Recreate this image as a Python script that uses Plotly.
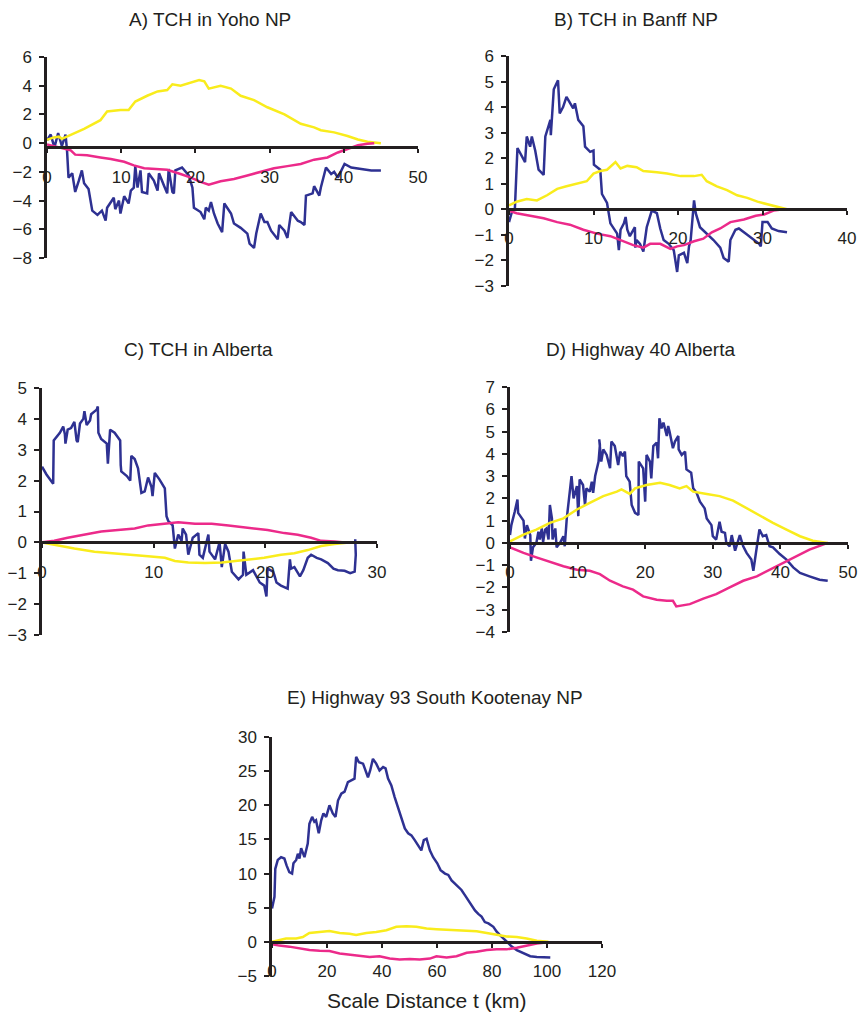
import plotly.graph_objects as go

NAVY = "#2E3192"
YELLOW = "#F9EC1C"
PINK = "#EC2A8A"
INK = "#231F20"
FONT = "Liberation Sans, Arial, Helvetica, sans-serif"

# ---- A) TCH in Yoho NP ----
a_blue_t = [0, 0.5, 1, 1.5, 2, 2.5, 2.7, 2.9, 3.4, 3.8, 4.3, 4.7, 5, 5.6, 6.1, 6.8, 7.4, 7.9, 8.1,
            9, 9.2, 9.7, 9.9, 10.4, 11, 11.3, 11.7, 11.9, 12.2, 12.6, 12.8, 13.5, 13.7, 14.4, 14.9,
            15.1, 15.8, 16.2, 16.4, 16.9, 17.1, 17.3, 18.2, 19.1, 19.6, 19.8, 20.7, 21.2, 21.4, 21.8,
            22.1, 22.5, 23, 23.6, 23.9, 24.8, 25.2, 26.1, 27, 27.3, 27.9, 28.2, 28.8, 29.3, 29.7, 30.2,
            31.1, 31.3, 32, 32.4, 32.9, 33.8, 34.2, 34.7, 34.9, 35.8, 36, 36.7, 36.9, 37.6, 38.3, 38.7,
            39.2, 40.1, 41, 42.3, 43.7, 45]
a_blue = [0.2, 0.6, -0.3, 0.7, -0.2, 0.6, -0.5, -2.4, -2.1, -3.4, -2.6, -1.9, -2.8, -3.2, -4.7, -5.0,
          -4.7, -5.4, -4.5, -3.8, -4.6, -4.0, -4.9, -3.7, -4.2, -3.3, -3.1, -1.6, -3.1, -1.9, -3.4, -3.5,
          -2.1, -2.6, -3.3, -2.1, -3.0, -3.5, -1.8, -3.4, -3.5, -1.9, -1.7, -2.25, -3.1, -4.5, -4.8, -5.3,
          -4.5, -4.7, -4.1, -4.9, -5.6, -6.2, -4.2, -4.9, -5.6, -5.9, -6.3, -7.0, -7.3, -6.3, -4.9, -5.5,
          -5.5, -6.1, -6.7, -5.7, -6.1, -6.6, -4.8, -5.4, -5.5, -5.7, -3.65, -3.5, -3.0, -3.65, -3.1,
          -1.7, -2.15, -2.0, -2.4, -1.45, -1.7, -1.8, -1.9, -1.9]
a_yellow_t = [0, 0.9, 1.6, 2.0, 5, 7.2, 8.1, 9.9, 11, 11.9, 13.5, 14.9, 16.2, 16.9, 18, 19.8, 20.5,
              21.2, 21.8, 23.4, 24.8, 26.1, 27.9, 29.7, 32, 34.2, 36, 36.9, 38.7, 40.5, 41.9, 43.2, 45]
a_yellow = [0.23, 0.4, 0.45, 0.3, 1.0, 1.6, 2.2, 2.3, 2.3, 2.9, 3.3, 3.6, 3.7, 4.1, 4.0, 4.3, 4.4,
            4.3, 3.8, 4.0, 3.8, 3.3, 3.0, 2.5, 2.0, 1.35, 1.1, 0.9, 0.75, 0.5, 0.25, 0.1, 0.0]
a_pink_t = [0, 1.6, 3.2, 3.8, 5.4, 7.2, 8.6, 10.4, 11.7, 13.1, 14.9, 16.2, 18, 19.4, 20.7, 21.8,
            23.4, 25.2, 27, 28.8, 30.6, 32.4, 34.2, 36, 37.8, 39.2, 40.5, 41.9, 43.2, 44.1]
a_pink = [-0.1, -0.3, -0.5, -0.8, -0.85, -1.0, -1.1, -1.3, -1.55, -1.75, -1.8, -1.85, -2.15, -2.4,
          -2.7, -2.9, -2.65, -2.5, -2.25, -2.0, -1.75, -1.6, -1.45, -1.15, -1.0, -0.65, -0.4, -0.15,
          -0.05, 0.0]

# ---- B) TCH in Banff NP ----
b_blue_t = [0, 0.3, 0.7, 1, 1.9, 2.1, 2.5, 2.7, 3.1, 3.5, 4.1, 4.3, 4.9, 4.95, 5.3, 5.8, 6, 6.4, 6.8,
            7.2, 7.6, 7.8, 8.2, 8.8, 9, 9.6, 10, 10.05, 10.8, 11, 11.6, 12, 12.8, 13, 13.2, 13.6, 13.8,
            14, 14.3, 14.9, 14.95, 15.1, 15.5, 15.9, 16.3, 16.9, 17.5, 17.9, 18.3, 18.9, 19.5, 19.9,
            20.1, 20.7, 21.1, 21.3, 21.5, 21.9, 22.1, 22.6, 23.4, 24.2, 25, 25.4, 26, 26.2, 26.8, 27.2,
            28, 29, 29.6, 29.8, 30, 30.6, 31.1, 31.9, 32.9]
b_blue = [-0.5, -0.15, 0.05, 2.4, 1.85, 2.85, 2.45, 2.85, 2.3, 1.55, 1.35, 2.85, 3.5, 2.9, 4.7, 5.05,
          3.75, 4.0, 4.4, 4.2, 3.95, 4.15, 3.5, 3.25, 2.45, 2.25, 2.3, 1.75, 1.55, 0.6, 0.25, -0.55,
          -0.95, -1.6, -0.8, -0.55, -0.3, -0.8, -1.05, -0.7, -1.5, -1.2, -1.35, -1.65, -0.7, -0.05,
          -0.15, -0.75, -1.2, -1.35, -1.6, -2.45, -1.8, -1.7, -2.1, -1.45, -1.2, 0.35, -0.15, -0.7,
          -0.95, -1.2, -1.5, -1.9, -2.05, -1.2, -0.8, -0.75, -0.95, -1.2, -1.35, -1.45, -0.5, -0.5,
          -0.75, -0.85, -0.9]
b_yellow_t = [0, 0.9, 2.1, 3.3, 4.5, 5.7, 6.8, 8, 9.2, 10, 10.8, 11.6, 12.6, 13.2, 14, 15.1, 15.9,
              17.5, 18.7, 20.3, 21.9, 22.8, 23.4, 24.6, 25.8, 27, 28.2, 29.4, 30.6, 31.7, 32.9]
b_yellow = [0.15, 0.3, 0.4, 0.35, 0.55, 0.8, 0.9, 1.0, 1.1, 1.4, 1.5, 1.55, 1.85, 1.6, 1.7, 1.65,
            1.5, 1.45, 1.4, 1.3, 1.3, 1.35, 1.1, 0.9, 0.75, 0.55, 0.45, 0.3, 0.2, 0.1, 0.0]
b_pink_t = [0, 0.9, 2.5, 4.1, 5.7, 7.2, 8.8, 10.4, 12, 13.6, 14.7, 15.9, 16.7, 17.9, 19.1, 19.9,
            20.7, 21.9, 23, 24, 25, 26.2, 27.8, 29.2, 30.2, 31.3, 32.5]
b_pink = [-0.05, -0.15, -0.25, -0.35, -0.5, -0.6, -0.8, -0.95, -1.05, -1.25, -1.4, -1.5, -1.35,
          -1.35, -1.55, -1.45, -1.4, -1.25, -1.15, -0.9, -0.75, -0.5, -0.4, -0.25, -0.2, -0.05, 0.0]

# ---- C) TCH in Alberta ----
c_blue_t = [0, 0.4, 1, 1.05, 1.6, 1.9, 2.05, 2.1, 2.3, 2.6, 2.9, 3.1, 3.2, 3.4, 3.7, 3.8, 4, 4.3, 4.4,
            4.9, 5, 5.05, 5.3, 5.8, 5.9, 6.1, 6.5, 7, 7.05, 7.1, 7.6, 7.9, 8, 8.3, 8.6, 8.9, 9.2, 9.5,
            9.8, 9.9, 10.1, 10.5, 11, 11.1, 11.15, 11.3, 11.7, 11.9, 12.2, 12.5, 12.6, 12.9, 13.1,
            13.5, 14, 14.1, 14.4, 14.9, 15, 15.5, 15.9, 16.1, 16.4, 16.7, 17, 17.6, 18, 18.05, 18.3,
            18.9, 19.5, 19.9, 20.1, 20.2, 20.7, 20.8, 21, 21.4, 22, 22.2, 22.3, 22.6, 23.1, 23.4, 23.8,
            24.1, 24.6, 25, 25.6, 26.1, 26.5, 27.1, 27.6, 28, 28.1, 28.05]
c_blue = [2.45, 2.2, 1.9, 3.3, 3.55, 3.75, 3.5, 3.2, 3.65, 3.7, 3.9, 3.3, 3.25, 3.85, 4.0, 4.25, 3.8,
          3.95, 4.15, 4.3, 4.4, 3.55, 3.35, 3.2, 2.55, 3.65, 3.55, 3.3, 2.5, 2.3, 2.15, 2.0, 2.8, 2.7,
          2.4, 1.6, 1.65, 2.1, 1.8, 1.5, 2.25, 2.05, 1.75, 1.1, 0.85, 0.7, 0.55, -0.2, 0.25, 0.05,
          0.45, 0.25, -0.4, 0.15, 0.3, -0.4, -0.5, 0.25, -0.3, -0.55, 0.0, -0.8, -0.05, -0.3, -0.95,
          -1.2, -1.05, -0.3, -1.05, -0.9, -1.3, -1.4, -1.75, -0.85, -0.95, -1.05, -1.3, -1.4, -1.5,
          -0.55, -0.85, -0.8, -1.1, -0.9, -0.5, -0.4, -0.5, -0.55, -0.67, -0.85, -0.9, -0.92, -1.0,
          -0.95, -0.4, 0.1]
c_yellow_t = [0, 1.4, 2.9, 4.7, 6.5, 8, 9.5, 11, 11.9, 13.1, 14.6, 16.1, 17.6, 18.5, 19.9, 21.4,
              22.6, 23.8, 25, 26.2, 27.7]
c_yellow = [0.0, -0.1, -0.2, -0.3, -0.35, -0.4, -0.45, -0.5, -0.6, -0.65, -0.67, -0.65, -0.6, -0.55,
            -0.5, -0.4, -0.35, -0.25, -0.12, -0.05, 0.0]
c_pink_t = [0, 1.1, 2.3, 3.8, 5.3, 6.8, 8.3, 9.5, 10.7, 12.2, 13.7, 15.2, 16.7, 17.9, 19, 20.2, 21.7,
            22.9, 24.1, 25, 26.2, 27.1]
c_pink = [0.0, 0.05, 0.15, 0.25, 0.35, 0.4, 0.45, 0.55, 0.6, 0.65, 0.6, 0.6, 0.55, 0.5, 0.45, 0.4,
          0.3, 0.25, 0.15, 0.05, 0.03, 0.0]

# ---- D) Highway 40 Alberta ----
d_blue_t = [0, 0.2, 0.7, 1.1, 1.2, 2, 2.2, 2.5, 3, 3.1, 3.4, 3.9, 4.2, 4.4, 4.7, 4.9, 5.2, 5.4, 5.7,
            5.9, 6.2, 6.3, 6.7, 6.9, 7.4, 7.9, 8.1, 8.4, 8.9, 9.1, 9.4, 9.9, 10.1, 10.3, 10.8, 11.1,
            11.3, 11.8, 12.1, 12.3, 12.6, 13.1, 13.3, 13.2, 13.5, 13.8, 14.3, 14.8, 15, 15.5, 15.8, 16,
            16.3, 16.7, 17, 17.2, 17.7, 18, 18.5, 19, 19.05, 19.7, 20, 20.2, 20.7, 20.9, 21.2, 21.7,
            21.9, 22.1, 22.4, 22.7, 23.2, 23.4, 23.6, 24.1, 24.4, 24.9, 24.95, 25.4, 25.9, 26.1, 26.8,
            27.1, 27.6, 28.1, 28.8, 29.1, 29.8, 30, 30.5, 31, 31.3, 31.8, 32, 32.5, 32.8, 33.3, 33.7,
            34, 34.5, 35, 35.7, 36, 36.5, 36.9, 37.4, 37.9, 38.4, 38.9, 39.9, 40.9, 41.9, 42.9, 44.3,
            45.8, 47]
d_blue = [0.35, 0.8, 1.4, 1.95, 1.35, 1.0, 0.2, 0.8, 0.35, -0.8, -0.2, 0.0, 0.5, 0.15, 0.65, 0.05,
          0.6, 0.65, 0.15, 1.7, 1.1, 0.15, 0.65, -0.2, 0.0, 0.3, -0.15, 1.1, 2.45, 3.0, 2.0, 2.55, 1.2,
          2.85, 2.6, 1.7, 2.45, 2.3, 2.75, 2.25, 3.0, 3.65, 4.4, 4.65, 3.65, 4.2, 3.95, 3.35, 4.55,
          4.35, 3.8, 3.5, 4.1, 3.9, 4.1, 3.0, 2.75, 1.7, 1.35, 1.25, 3.65, 3.35, 1.85, 3.95, 3.65,
          2.9, 4.35, 4.5, 3.8, 5.6, 5.15, 5.4, 4.8, 5.25, 5.0, 4.25, 4.55, 4.8, 4.2, 3.95, 4.1, 3.3,
          3.15, 2.45, 2.25, 1.85, 1.55, 1.1, 0.8, 0.3, 0.15, 0.95, 0.5, 0.45, 0.0, -0.15, 0.35, -0.35,
          0.05, 0.35, -0.15, -0.45, -0.75, -1.25, -0.2, 0.6, 0.3, 0.35, -0.15, -0.2, -0.5, -0.75,
          -1.1, -1.35, -1.5, -1.65, -1.7]
d_yellow_t = [0, 2, 3.9, 5.9, 7.9, 9.9, 11.8, 13.8, 15.8, 16.5, 17.7, 18.5, 20.2, 22.2, 23.6, 25.1,
              26.1, 27.1, 29.1, 31, 33, 35, 36.9, 38.9, 40.9, 42.9, 44.8, 47]
d_yellow = [0.07, 0.37, 0.6, 0.9, 1.1, 1.5, 1.8, 2.1, 2.3, 2.4, 2.2, 2.45, 2.6, 2.7, 2.6, 2.45, 2.55,
            2.3, 2.2, 2.1, 1.9, 1.55, 1.25, 0.9, 0.6, 0.3, 0.1, 0.0]
d_pink_t = [0, 2, 3.9, 5.9, 7.9, 9.9, 11.8, 13.3, 14.8, 16.7, 18.2, 19.7, 21.7, 23.2, 24.1, 24.6,
            26.6, 28.6, 30.5, 32.5, 34.5, 36.5, 38.4, 40.4, 42.4, 44.3, 47]
d_pink = [-0.2, -0.45, -0.65, -0.85, -1.05, -1.2, -1.25, -1.4, -1.7, -1.95, -2.1, -2.4, -2.55, -2.6,
          -2.6, -2.85, -2.75, -2.5, -2.3, -2.0, -1.7, -1.5, -1.2, -0.9, -0.6, -0.3, 0.0]

# ---- E) Highway 93 South Kootenay NP ----
e_blue_t = [0, 0.9, 1.2, 2.1, 3.3, 4.5, 5.3, 6.3, 7.3, 7.8, 8.8, 9.4, 10, 10.6, 11.8, 12.4, 13, 13.6,
            14.6, 15.4, 16, 17, 17.9, 18.7, 19.7, 20.9, 22.1, 23.1, 24, 25.2, 26.4, 27.6, 28.8, 30,
            30.6, 31.6, 33.1, 34, 34.9, 35.7, 36.7, 37.9, 39.1, 40.4, 41.3, 42.2, 43.4, 44.6, 45.8,
            47.1, 48.3, 49.5, 50.7, 51.9, 53.1, 54.3, 55.2, 56.2, 57.4, 58.6, 60.1, 61.3, 62.9, 64.1,
            65.3, 66.5, 67.7, 68.9, 70.2, 71.4, 72.6, 73.8, 75, 76.2, 77.4, 78.7, 80.5, 81.7, 82.9,
            84.1, 85.3, 87.2, 89, 91.4, 93.9, 96.3, 98.7, 101.2]
e_blue = [4.9, 6.6, 10.7, 12.0, 12.4, 12.2, 11.2, 10.2, 10.0, 11.5, 12.0, 12.9, 12.2, 13.7, 12.4,
          13.4, 14.4, 17.3, 18.3, 17.6, 17.8, 15.9, 17.8, 18.8, 18.3, 20.0, 18.8, 18.3, 20.7, 21.7,
          22.0, 23.4, 23.7, 23.9, 27.1, 26.3, 26.1, 25.1, 24.1, 25.1, 26.8, 26.1, 25.1, 25.6, 25.4,
          23.9, 22.9, 21.2, 19.8, 18.0, 16.6, 15.9, 15.6, 14.9, 14.1, 13.4, 14.9, 15.1, 13.4, 12.4,
          11.5, 10.5, 10.0, 9.8, 9.0, 8.5, 8.0, 7.6, 6.8, 6.1, 5.4, 4.6, 4.1, 3.7, 2.9, 2.7, 2.2, 1.5,
          1.0, 0.5, 0.0, -0.7, -1.2, -1.7, -2.1, -2.2, -2.3, -2.3]
e_yellow_t = [0, 2.7, 5.1, 8.8, 11.2, 13.6, 17.3, 20.9, 24.6, 28.2, 30.6, 34.3, 37.9, 41.6, 45.2,
              48.9, 52.5, 56.2, 59.8, 63.5, 67.1, 70.8, 74.4, 78.1, 81.7, 85.3, 89, 92.6, 96.3, 100.5]
e_yellow = [0.0, 0.25, 0.5, 0.5, 0.7, 1.3, 1.45, 1.6, 1.3, 1.2, 1.0, 1.3, 1.45, 1.7, 2.2, 2.3, 2.2,
            1.95, 1.85, 1.8, 1.7, 1.7, 1.55, 1.3, 1.05, 0.8, 0.7, 0.5, 0.15, 0.0]
e_pink_t = [0, 2.7, 6.3, 10, 13.6, 17.3, 20.9, 24.6, 28.2, 31.9, 35.5, 39.1, 42.8, 46.4, 50.1, 53.7,
            57.4, 59.8, 63.5, 67.1, 70.8, 74.4, 78.1, 81.7, 85.3, 89, 92.6, 96.3, 98.7]
e_pink = [-0.35, -0.55, -0.7, -1.0, -1.2, -1.3, -1.35, -1.7, -1.85, -1.95, -2.2, -2.1, -2.45, -2.6,
          -2.5, -2.6, -2.45, -2.1, -2.3, -2.1, -1.6, -1.45, -1.2, -1.1, -1.1, -0.85, -0.5, -0.25, -0.15]

W, H = 860, 1013

# (title, title position px, x range, x dtick, y range, y dtick, plot box px l/r/top/bottom, x-axis crossing)
panels = [
    ("A) TCH in Yoho NP", (210, 20), [0, 50], 10, [-8, 6], 2, (47, 418, 57, 258), -0.3,
     (a_blue_t, a_blue), (a_yellow_t, a_yellow), (a_pink_t, a_pink)),
    ("B) TCH in Banff NP", (636, 20), [0, 40], 10, [-3, 6], 1, (509, 847, 56, 286), 0,
     (b_blue_t, b_blue), (b_yellow_t, b_yellow), (b_pink_t, b_pink)),
    ("C) TCH in Alberta", (198, 349), [0, 30], 10, [-3, 5], 1, (42, 377, 388, 635), 0,
     (c_blue_t, c_blue), (c_yellow_t, c_yellow), (c_pink_t, c_pink)),
    ("D) Highway 40 Alberta", (640, 349), [0, 50], 10, [-4, 7], 1, (510, 848, 387, 632), 0,
     (d_blue_t, d_blue), (d_yellow_t, d_yellow), (d_pink_t, d_pink)),
    ("E) Highway 93 South Kootenay NP", (435, 697), [0, 120], 20, [-5, 30], 5, (272, 602, 737, 976), 0,
     (e_blue_t, e_blue), (e_yellow_t, e_yellow), (e_pink_t, e_pink)),
]

fig = go.Figure()
annotations = []
for i, (title, tpos, xr, xd, yr, yd, box, cross, blue, yellow, pink) in enumerate(panels, start=1):
    sfx = "" if i == 1 else str(i)
    for (xs, ys), col in ((blue, NAVY), (yellow, YELLOW), (pink, PINK)):
        fig.add_trace(go.Scatter(x=xs, y=ys, mode="lines", line=dict(color=col, width=2.5),
                                 xaxis="x" + sfx, yaxis="y" + sfx, showlegend=False,
                                 hoverinfo="skip"))
    l, r, t, b = box
    ydom = [1 - b / H, 1 - t / H]
    pos = ydom[0] + (cross - yr[0]) / (yr[1] - yr[0]) * (ydom[1] - ydom[0])
    fig.layout["xaxis" + sfx] = dict(
        domain=[l / W, r / W], range=xr, dtick=xd, tick0=0, anchor="free", position=pos,
        showline=True, linecolor=INK, linewidth=2.5, ticks="outside", ticklen=4,
        tickwidth=2, tickcolor=INK, ticklabelstandoff=9, showgrid=False, zeroline=False,
        automargin=False, tickfont=dict(size=17, color=INK, family=FONT),
    )
    fig.layout["yaxis" + sfx] = dict(
        domain=ydom, range=yr, dtick=yd, tick0=0, anchor="x" + sfx,
        showline=True, linecolor=INK, linewidth=2.5, ticks="outside", ticklen=5,
        tickwidth=2, tickcolor=INK, ticklabelstandoff=4, showgrid=False, zeroline=False,
        automargin=False, tickfont=dict(size=17, color=INK, family=FONT),
    )
    annotations.append(dict(text=title, x=tpos[0] / W, y=1 - tpos[1] / H, xref="paper",
                            yref="paper", xanchor="center", yanchor="middle", showarrow=False,
                            font=dict(size=19, color=INK, family=FONT)))

annotations.append(dict(text="Scale Distance t (km)", x=427 / W, y=1 - 1000 / H, xref="paper",
                        yref="paper", xanchor="center", yanchor="middle", showarrow=False,
                        font=dict(size=21, color=INK, family=FONT)))

fig.update_layout(
    width=W, height=H, margin=dict(l=0, r=0, t=0, b=0, autoexpand=False),
    paper_bgcolor="white", plot_bgcolor="white",
    annotations=annotations,
)

# drop the page's default body margin so the 860x1013 figure sits at the window origin
fig.write_html("out.html", config={"displayModeBar": False},
               post_script="document.body.style.margin='0';")
